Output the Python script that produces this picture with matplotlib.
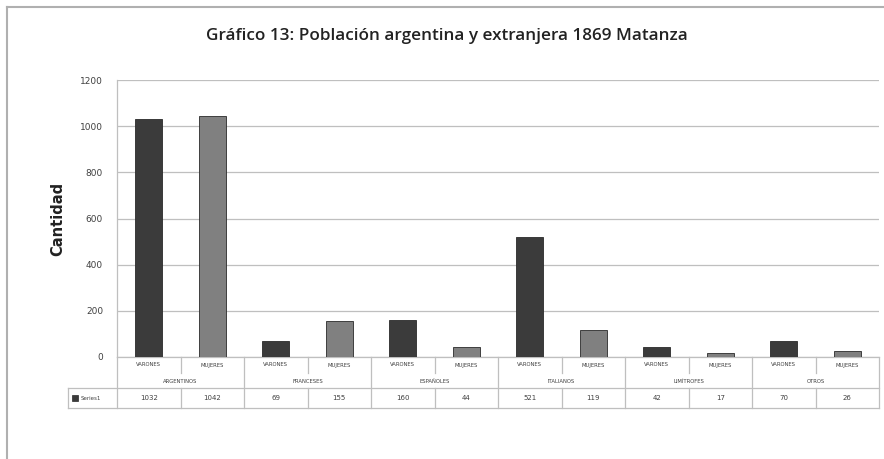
import matplotlib.pyplot as plt
from matplotlib.lines import Line2D
from matplotlib.patches import Rectangle

# data
groups = ["ARGENTINOS", "FRANCESES", "ESPAÑOLES", "ITALIANOS", "LIMÍTROFES", "OTROS"]
sexes = ["VARONES", "MUJERES"]
values = [1032, 1042, 69, 155, 160, 44, 521, 119, 42, 17, 70, 26]
series_name = "Series1"
yticks = [0, 200, 400, 600, 800, 1000, 1200]

DARK = "#3b3b3b"
LIGHT = "#808080"
GRID = "#bfbfbf"
TXT = "#404040"

W, H = 884, 459
fig = plt.figure(figsize=(W / 100, H / 100), dpi=100)

# plot area in pixel coords
left, right, top, bottom = 117, 879, 80, 357
ax = fig.add_axes([left / W, 1 - bottom / H, (right - left) / W, (bottom - top) / H])

n = len(values)
xs = list(range(n))
colors = [DARK if i % 2 == 0 else LIGHT for i in xs]
ax.bar(xs, values, width=0.43, color=colors, edgecolor="#2a2a2a", linewidth=0.6, zorder=3)

ax.set_xlim(-0.5, n - 0.5)
ax.set_ylim(0, 1200)
ax.set_yticks(yticks)
ax.set_yticklabels([str(t) for t in yticks], fontsize=6.5, color=TXT)
ax.tick_params(axis="y", length=0, pad=10)
ax.set_xticks([])
ax.grid(axis="y", color=GRID, linewidth=0.9, zorder=0)
for s in ["top", "right", "bottom"]:
    ax.spines[s].set_visible(False)
ax.spines["left"].set_color(GRID)
ax.spines["left"].set_linewidth(0.9)

ax.set_ylabel("Cantidad", fontsize=10.5, fontweight="bold", color="#222222", labelpad=11)

# table under the axis, y in axes fraction
ph = bottom - top
r1 = -(373 - bottom) / ph
r2 = -(388 - bottom) / ph
r3 = -(408 - bottom) / ph
trans = ax.get_xaxis_transform()

def hline(x0, x1, y):
    ax.add_line(Line2D([x0, x1], [y, y], transform=trans, color=GRID, lw=0.9, clip_on=False))

def vline(x, y0, y1):
    ax.add_line(Line2D([x, x], [y0, y1], transform=trans, color=GRID, lw=0.9, clip_on=False))

# column boundaries in data units
lab_left = -0.5 - (left - 68) / ((right - left) / n)

hline(-0.5, n - 0.5, 0)
hline(lab_left, n - 0.5, r2)
hline(lab_left, n - 0.5, r3)
vline(-0.5, 0, r3)
vline(n - 0.5, 0, r3)
vline(lab_left, r2, r3)
for i in range(1, n):
    if i % 2 == 0:
        vline(i - 0.5, 0, r3)
    else:
        vline(i - 0.5, 0, r1)
        vline(i - 0.5, r2, r3)

for i, v in enumerate(values):
    ax.text(i, r1 / 2, sexes[i % 2], transform=trans, ha="center", va="center",
            fontsize=3.8, color=TXT)
    ax.text(i, (r2 + r3) / 2, str(v), transform=trans, ha="center", va="center",
            fontsize=5, color=TXT)
for g, name in enumerate(groups):
    ax.text(2 * g + 0.5, (r1 + r2) / 2 - 0.005, name, transform=trans, ha="center",
            va="center", fontsize=3.8, color=TXT)

# legend key in the data table
ax.add_patch(Rectangle((lab_left + 0.06, (r2 + r3) / 2 - 0.012), 0.1, 0.024,
                       transform=trans, facecolor=DARK, edgecolor="#2a2a2a",
                       lw=0.5, clip_on=False))
ax.text(lab_left + 0.2, (r2 + r3) / 2, series_name, transform=trans, ha="left",
        va="center", fontsize=4, color=TXT)

# chart frame (left and top edges)
fig.add_artist(Line2D([7 / W, 7 / W], [0, 1 - 7 / H], color="#b0b0b0", lw=1.5))
fig.add_artist(Line2D([7 / W, 1], [1 - 7 / H, 1 - 7 / H], color="#b0b0b0", lw=1.5))

fig.text(447 / W, 1 - 36 / H, "Gráfico 13: Población argentina y extranjera 1869 Matanza",
         ha="center", va="center", fontsize=12.3, fontweight="semibold", color="#222222",
         family="Open Sans")

fig.savefig("out.png", dpi=100, facecolor="white")
